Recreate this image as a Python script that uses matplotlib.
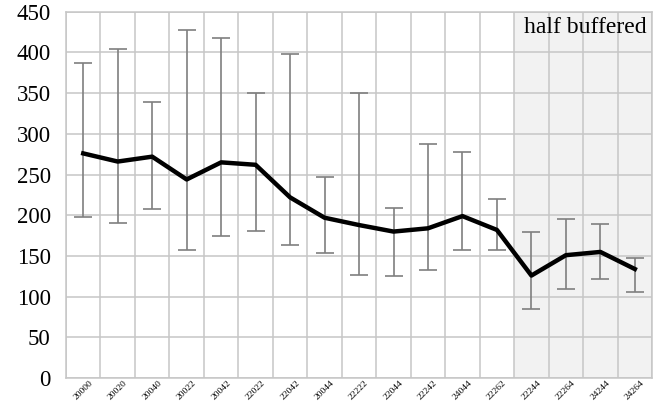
import matplotlib
matplotlib.use("Agg")
import matplotlib.pyplot as plt
import numpy as np

# category labels
labels = ['20000', '20020', '20040', '20022', '20042', '22022', '22042', '20044',
          '22222', '22044', '22242', '24044', '22262', '22244', '22264', '24244', '24264']

# mean values (black line)
means = [276, 266, 272, 244, 265, 262, 222, 197, 188, 180, 184, 199, 182, 126, 151, 155, 134]

# error bar top and bottom
tops = [387, 404, 339, 428, 418, 350, 398, 247, 350, 209, 288, 278, 220, 179, 196, 189, 147]
bottoms = [198, 191, 208, 157, 174, 181, 164, 154, 127, 126, 133, 157, 157, 85, 110, 122, 106]

plt.rcParams['font.family'] = ['Liberation Serif', 'DejaVu Serif']

fig = plt.figure(figsize=(6.6, 4.04), dpi=100)
ax = fig.add_axes([0.1, 0.064, 0.888, 0.907])

x = np.arange(len(labels))
means = np.array(means)
lower = means - np.array(bottoms)
upper = np.array(tops) - means

# shaded "half buffered" area
ax.axvspan(12.5, 16.5, color='#f2f2f2', zorder=0, lw=0)

ax.errorbar(x, means, yerr=[lower, upper], fmt='none', ecolor='#7f7f7f',
            elinewidth=1.2, capsize=6.5, capthick=1.2, zorder=2)
ax.plot(x, means, color='black', lw=3.2, zorder=3)

ax.set_xlim(-0.5, 16.5)
ax.set_ylim(0, 450)
ax.set_yticks(np.arange(0, 451, 50))
ax.set_xticks(x)
ax.set_xticklabels(labels, rotation=45, ha='center', fontsize=6.8)
ax.set_xticks(np.arange(-0.5, 16.6, 1), minor=True)

ax.grid(True, which='minor', axis='x', color='#c6c6c6', lw=1.1, zorder=1)
ax.grid(True, which='major', axis='y', color='#c6c6c6', lw=1.1, zorder=1)
ax.set_axisbelow(True)
for s in ax.spines.values():
    s.set_color('#c6c6c6')
    s.set_linewidth(1.1)

ax.tick_params(axis='y', length=0, labelsize=16.5, pad=11)
ax.tick_params(axis='x', which='both', length=0, pad=0.5)

ax.text(0.99, 0.985, 'half buffered', transform=ax.transAxes, ha='right', va='top',
        fontsize=17, zorder=4)

fig.savefig('out.png', dpi=100)
